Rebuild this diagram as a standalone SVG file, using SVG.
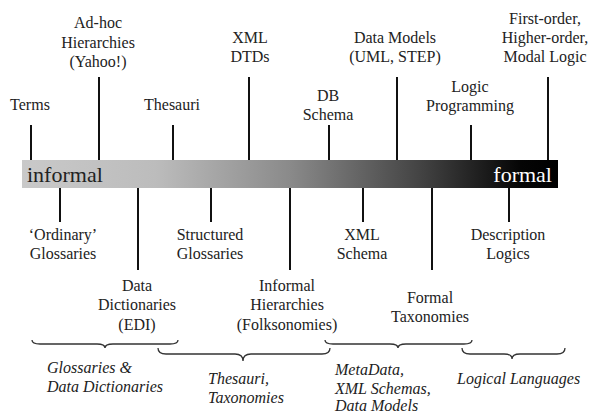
<svg xmlns="http://www.w3.org/2000/svg" width="590" height="413" viewBox="0 0 590 413">
<defs>
<linearGradient id="g" x1="0" y1="0" x2="1" y2="0">
<stop offset="0" stop-color="#c9c9c9"/>
<stop offset="0.25" stop-color="#bcbcbc"/>
<stop offset="0.5" stop-color="#8a8a8a"/>
<stop offset="0.75" stop-color="#414141"/>
<stop offset="0.93" stop-color="#050505"/>
<stop offset="1" stop-color="#000"/>
</linearGradient>
</defs>
<style>
.t{font-family:'Liberation Serif',serif;font-size:16px;fill:#222;text-anchor:middle}
.it{font-family:'Liberation Serif',serif;font-size:16px;fill:#222;font-style:italic;text-anchor:start}
.big{font-family:'Liberation Serif',serif;font-size:22px}
.tick{stroke:#111;stroke-width:2}
.brace{fill:none;stroke:#333;stroke-width:1.3}
</style>
<rect width="590" height="413" fill="#fff"/>
<g font-family="Liberation Serif" font-size="16">
<g id="bar">
<rect x="22" y="160" width="536" height="28" fill="url(#g)"/>
<text class="big" x="27" y="182" fill="#222" text-anchor="start">informal</text>
<text class="big" x="552" y="182" fill="#fff" text-anchor="end">formal</text>
</g>
<g id="connectors">
<line class="tick" x1="31" y1="125" x2="31" y2="160"/>
<line class="tick" x1="99" y1="77" x2="99" y2="160"/>
<line class="tick" x1="173" y1="125" x2="173" y2="160"/>
<line class="tick" x1="249" y1="77" x2="249" y2="160"/>
<line class="tick" x1="329" y1="125" x2="329" y2="160"/>
<line class="tick" x1="397" y1="77" x2="397" y2="160"/>
<line class="tick" x1="471" y1="125" x2="471" y2="160"/>
<line class="tick" x1="548" y1="77" x2="548" y2="160"/>
<line class="tick" x1="60" y1="188" x2="60" y2="222"/>
<line class="tick" x1="138" y1="188" x2="138" y2="270"/>
<line class="tick" x1="211" y1="188" x2="211" y2="222"/>
<line class="tick" x1="290" y1="188" x2="290" y2="270"/>
<line class="tick" x1="363" y1="188" x2="363" y2="222"/>
<line class="tick" x1="432" y1="188" x2="432" y2="270"/>
<line class="tick" x1="509" y1="188" x2="509" y2="222"/>
</g>
<g id="n-terms"><text class="t" x="30" y="110">Terms</text></g>
<g id="n-adhoc"><text class="t" x="98" y="28">Ad-hoc</text><text class="t" x="98" y="48">Hierarchies</text><text class="t" x="98" y="67">(Yahoo!)</text></g>
<g id="n-thesauri"><text class="t" x="172" y="110">Thesauri</text></g>
<g id="n-xmldtd"><text class="t" x="250" y="43">XML</text><text class="t" x="250" y="62">DTDs</text></g>
<g id="n-db"><text class="t" x="328" y="101">DB</text><text class="t" x="328" y="120">Schema</text></g>
<g id="n-datamodels"><text class="t" x="395" y="43">Data Models</text><text class="t" x="395" y="62">(UML, STEP)</text></g>
<g id="n-logicprog"><text class="t" x="470" y="92">Logic</text><text class="t" x="470" y="111">Programming</text></g>
<g id="n-firstorder"><text class="t" x="545" y="24">First-order,</text><text class="t" x="545" y="43">Higher-order,</text><text class="t" x="545" y="62">Modal Logic</text></g>
<g id="n-ordinary"><text class="t" x="63" y="240">‘Ordinary’</text><text class="t" x="63" y="259">Glossaries</text></g>
<g id="n-datadict"><text class="t" x="137" y="291">Data</text><text class="t" x="137" y="310">Dictionaries</text><text class="t" x="137" y="330">(EDI)</text></g>
<g id="n-structured"><text class="t" x="210" y="240">Structured</text><text class="t" x="210" y="259">Glossaries</text></g>
<g id="n-informalh"><text class="t" x="287" y="291">Informal</text><text class="t" x="287" y="310">Hierarchies</text><text class="t" x="287" y="330">(Folksonomies)</text></g>
<g id="n-xmlschema"><text class="t" x="362" y="240">XML</text><text class="t" x="362" y="259">Schema</text></g>
<g id="n-formaltax"><text class="t" x="430" y="303">Formal</text><text class="t" x="430" y="322">Taxonomies</text></g>
<g id="n-dl"><text class="t" x="508" y="240">Description</text><text class="t" x="508" y="259">Logics</text></g>
<g id="braces">
<path class="brace" d="M32 340 q0 4 8 4 H97 q8 0 8 4 q0 -4 8 -4 H170 q8 0 8 -4"/>
<path class="brace" d="M158 348 q0 6 8 6 H235 q8 0 8 7 q0 -7 8 -7 H322 q8 0 8 -6"/>
<path class="brace" d="M325 340 q0 4 8 4 H390 q8 0 8 4 q0 -4 8 -4 H464 q8 0 8 -4"/>
<path class="brace" d="M462 348 q0 6 8 6 H504 q8 0 8 5 q0 -5 8 -5 H557 q8 0 8 -6"/>
</g>
<g id="g-glossaries"><text class="it" x="47" y="373">Glossaries &amp;</text><text class="it" x="47" y="392">Data Dictionaries</text></g>
<g id="g-thesauri"><text class="it" x="208" y="384">Thesauri,</text><text class="it" x="208" y="403">Taxonomies</text></g>
<g id="g-metadata"><text class="it" x="335" y="375">MetaData,</text><text class="it" x="335" y="394">XML Schemas,</text><text class="it" x="335" y="411">Data Models</text></g>
<g id="g-logical"><text class="it" x="457" y="384">Logical Languages</text></g>
</g>
</svg>
